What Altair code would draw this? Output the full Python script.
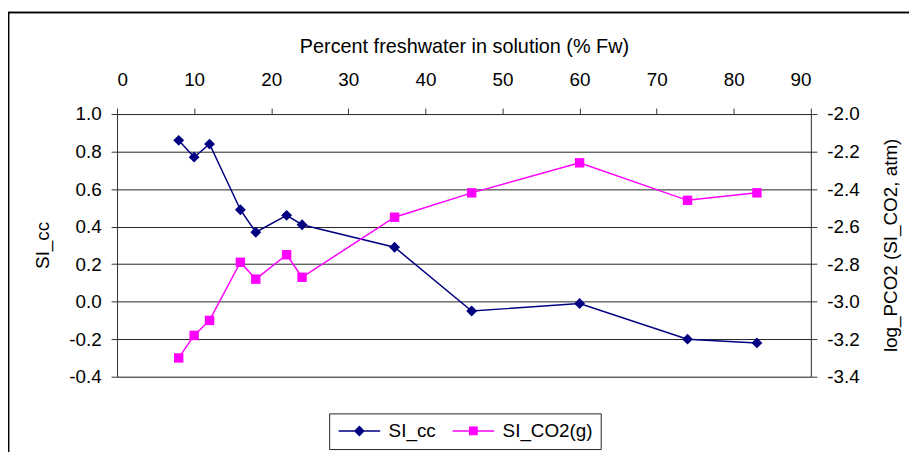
import altair as alt
import pandas as pd

fw_pct = [8, 10, 12, 16, 18, 22, 24, 36, 46, 60, 74, 83]
si_cc = [0.86, 0.77, 0.84, 0.49, 0.37, 0.46, 0.41, 0.29, -0.05, -0.01, -0.20, -0.22]
si_co2 = [-3.30, -3.18, -3.10, -2.79, -2.88, -2.75, -2.87, -2.55, -2.42, -2.26, -2.46, -2.42]
series_names = ["SI_cc", "SI_CO2(g)"]
series_colors = ["#000080", "#FF00FF"]
x_ticks = [0, 10, 20, 30, 40, 50, 60, 70, 80, 90]
left_ticks = [-0.4, -0.2, 0.0, 0.2, 0.4, 0.6, 0.8, 1.0]
right_ticks = [-3.4, -3.2, -3.0, -2.8, -2.6, -2.4, -2.2, -2.0]

df = pd.DataFrame({"fw": fw_pct, "si_cc": si_cc, "si_co2": si_co2})
leg_df = pd.DataFrame({"series": series_names})

FONT = "Liberation Sans"
FS = 19
W, H = 700, 265
LBL = "replace(format(datum.value, '.1f'), '\u2212', '-')"

x_enc = alt.X(
    "fw:Q",
    scale=alt.Scale(domain=[0, 90], nice=False, zero=False),
    axis=alt.Axis(
        orient="top", values=x_ticks, title="Percent freshwater in solution (% Fw)",
        grid=False, tickSize=6, tickColor="#333333", domainColor="#333333",
        labelFontSize=FS, labelFont=FONT, labelColor="black", labelPadding=19,
        titleFontSize=20, titleFont=FONT, titleFontWeight="normal", titleColor="black",
        titlePadding=14,
    ),
)

y_left = alt.Y(
    "si_cc:Q",
    scale=alt.Scale(domain=[-0.4, 1.0], nice=False, zero=False),
    axis=alt.Axis(
        orient="left", values=left_ticks, labelExpr=LBL, title="SI_cc",
        grid=True, gridColor="#222222", gridWidth=1, gridOpacity=1,
        tickSize=6, tickColor="#333333", domainColor="#333333",
        labelFontSize=FS, labelFont=FONT, labelColor="black", labelPadding=10,
        titleFontSize=FS, titleFont=FONT, titleFontWeight="normal", titleColor="black",
        titleX=-75, titleY=132, titleAngle=270, titleAlign="center", titleBaseline="middle",
    ),
)

y_right = alt.Y(
    "si_co2:Q",
    scale=alt.Scale(domain=[-3.4, -2.0], nice=False, zero=False),
    axis=alt.Axis(
        orient="right", values=right_ticks, labelExpr=LBL, title="log_PCO2 (SI_CO2, atm)",
        grid=False, tickSize=6, tickColor="#333333", domainColor="#333333",
        labelFontSize=FS, labelFont=FONT, labelColor="black", labelPadding=10,
        titleFontSize=FS, titleFont=FONT, titleFontWeight="normal", titleColor="black",
        titleX=80, titleY=132, titleAngle=270, titleAlign="center", titleBaseline="middle",
    ),
)

base = alt.Chart(df)

cc_line = base.mark_line(color=series_colors[0], strokeWidth=1.5).encode(x=x_enc, y=y_left)
cc_pts = base.mark_point(shape="diamond", filled=True, color=series_colors[0], size=120, opacity=1).encode(x=x_enc, y=y_left)

co2_line = base.mark_line(color=series_colors[1], strokeWidth=1.5).encode(x=x_enc, y=y_right)
co2_pts = base.mark_point(shape="square", filled=True, color=series_colors[1], size=90, opacity=1).encode(x=x_enc, y=y_right)

paths = [
    "M-2.625,0H2.625M0,-0.55L0.55,0L0,0.55L-0.55,0Z",
    "M-2.625,0H2.625M-0.46,-0.46H0.46V0.46H-0.46Z",
]
leg_scale = alt.Scale(domain=series_names, range=series_colors)
legend = alt.Legend(
    title=None, orient="none", legendX=214, legendY=302, direction="horizontal",
    strokeColor="#222222", fillColor="white", padding=8,
    labelFontSize=FS, labelFont=FONT, labelColor="black",
    symbolSize=256, symbolStrokeWidth=1.5, symbolOpacity=1,
    symbolOffset=13, labelOffset=20, columnPadding=13,
)
leg_layer = alt.Chart(leg_df).mark_point(filled=True, opacity=0).encode(
    fill=alt.Fill("series:N", scale=leg_scale, legend=legend),
    stroke=alt.Stroke("series:N", scale=leg_scale, legend=legend),
    shape=alt.Shape("series:N", scale=alt.Scale(domain=series_names, range=paths), legend=legend),
)

frame_top = alt.Chart(leg_df).mark_rule(color="black", strokeWidth=1.5).encode(
    x=alt.value(-110), x2=alt.value(799), y=alt.value(-102.5)
)
frame_left = alt.Chart(leg_df).mark_rule(color="black", strokeWidth=1.5).encode(
    x=alt.value(-109.5), y=alt.value(-102.5), y2=alt.value(341)
)

left = alt.layer(cc_line, cc_pts)
right = alt.layer(co2_line, co2_pts)

chart = alt.layer(left, right, leg_layer, frame_top, frame_left).resolve_scale(
    y="independent"
).properties(
    width=W, height=H,
    autosize=alt.AutoSizeParams(type="none"),
    padding={"left": 110, "top": 105, "right": 99, "bottom": 76},
).configure_view(stroke=None).configure(background="white")

chart.save("out.html", embed_options={"renderer": "svg", "actions": False})
